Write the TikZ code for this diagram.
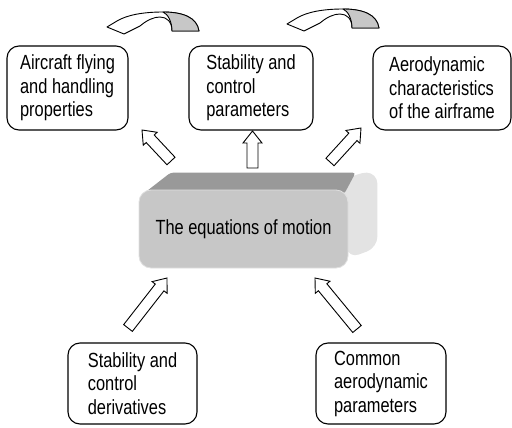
\documentclass[tikz,border=0pt]{standalone}
\usepackage{fontspec}
\setmainfont{Liberation Sans}[FakeStretch=0.8]
\usepackage{tikz}
\usetikzlibrary{calc, backgrounds}
\tikzset{
	infobox/.style={rectangle, rounded corners=12pt, draw=black, line width=1.1pt, fill=white,
		align=left, minimum height=84pt, font=\fontsize{20.5}{23.5}\selectfont},
	mainbox/.style={rectangle, rounded corners=12pt, draw=black!12, fill=black!22, line width=0.8pt,
		minimum width=209pt, minimum height=78pt, font=\fontsize{20.5}{23.5}\selectfont},
	% hollow block arrow drawn as an outline between two points
	hollow/.style={draw=black, fill=white, line width=0.9pt, to path={
		($(\tikztostart)!5.5pt!90:(\tikztotarget)$)
		-- ($($(\tikztotarget)!12pt!(\tikztostart)$)!5.5pt!-90:(\tikztostart)$)
		-- ($($(\tikztotarget)!12pt!(\tikztostart)$)!9.5pt!-90:(\tikztostart)$)
		-- (\tikztotarget)
		-- ($($(\tikztotarget)!12pt!(\tikztostart)$)!9.5pt!90:(\tikztostart)$)
		-- ($($(\tikztotarget)!12pt!(\tikztostart)$)!5.5pt!90:(\tikztostart)$)
		-- ($(\tikztostart)!5.5pt!-90:(\tikztotarget)$) -- cycle}},
	turnarrow/.style={draw=black, fill=white, line width=0.9pt, line join=round},
}
\begin{document}
\begin{tikzpicture}[x=1pt, y=-1pt]
	\useasboundingbox (0,0) rectangle (512,428);
	\node[infobox, minimum width=121pt](fly) at (67.5,88){Aircraft flying\\and handling\\properties};
	\node[infobox, minimum width=124pt](scp) at (251,88){Stability and\\control\\parameters};
	\node[infobox, minimum width=138pt](aero) at (442,88){Aerodynamic\\characteristics\\of the airframe};
	\node[infobox, minimum width=129pt, minimum height=81pt](deriv) at (132.5,383.5){Stability and\\control\\derivatives};
	\node[infobox, minimum width=130pt, minimum height=81pt](common) at (381,383.5){Common\\aerodynamic\\parameters};
	\node[mainbox](eqm) at (243.5,229){The equations of motion};
	% depth of the block
	\begin{scope}[on background layer]
		\fill[black!11, rounded corners=11pt] ([xshift=-14pt]eqm.north east) -- ++(22,-17) -- ++(21,0) -- ++(0,75) -- ([yshift=10pt]eqm.south east) -- cycle;
		\fill[black!40, rounded corners=3pt] ([xshift=5pt,yshift=-4pt]eqm.north west) -- ++(27,-21) -- ++(185,0) -- ([xshift=-4pt,yshift=-4pt]eqm.north east) -- cycle;
	\end{scope}
	\coordinate (fly-s) at (171,161); \coordinate (fly-t) at (142,130);
	\coordinate (scp-s) at (252.5,168); \coordinate (scp-t) at (252.5,131);
	\coordinate (aero-s) at (330,162); \coordinate (aero-t) at (361,128);
	\coordinate (deriv-s) at (128,328); \coordinate (deriv-t) at (167,278);
	\coordinate (common-s) at (357,329); \coordinate (common-t) at (315,278);
	\draw[hollow](fly-s) to (fly-t);\draw[hollow](scp-s) to (scp-t);
	\draw[hollow](aero-s) to (aero-t);
	\draw[hollow](deriv-s) to (deriv-t);\draw[hollow](common-s) to (common-t);
	% turn arrows above the top row
	\foreach \dx/\dy in {0/0,180/-3}{
		\begin{scope}[shift={(\dx,\dy)}]
			\draw[turnarrow] (199,31) .. controls (197,17) and (182,12) .. (163,12) .. controls (143,12) and (127,15) .. (117,21)
				-- (107,27) -- (124,34) -- (140,26) .. controls (147,20) and (154,17) .. (160,17) .. controls (167,17) and (172,22) .. (172,31) -- cycle;
			\draw[turnarrow, fill=black!22] (199,31) .. controls (197,17) and (182,12) .. (163,12) .. controls (168,14) and (172,22) .. (172,31) -- cycle;
		\end{scope}
	}
\end{tikzpicture}
\end{document}
